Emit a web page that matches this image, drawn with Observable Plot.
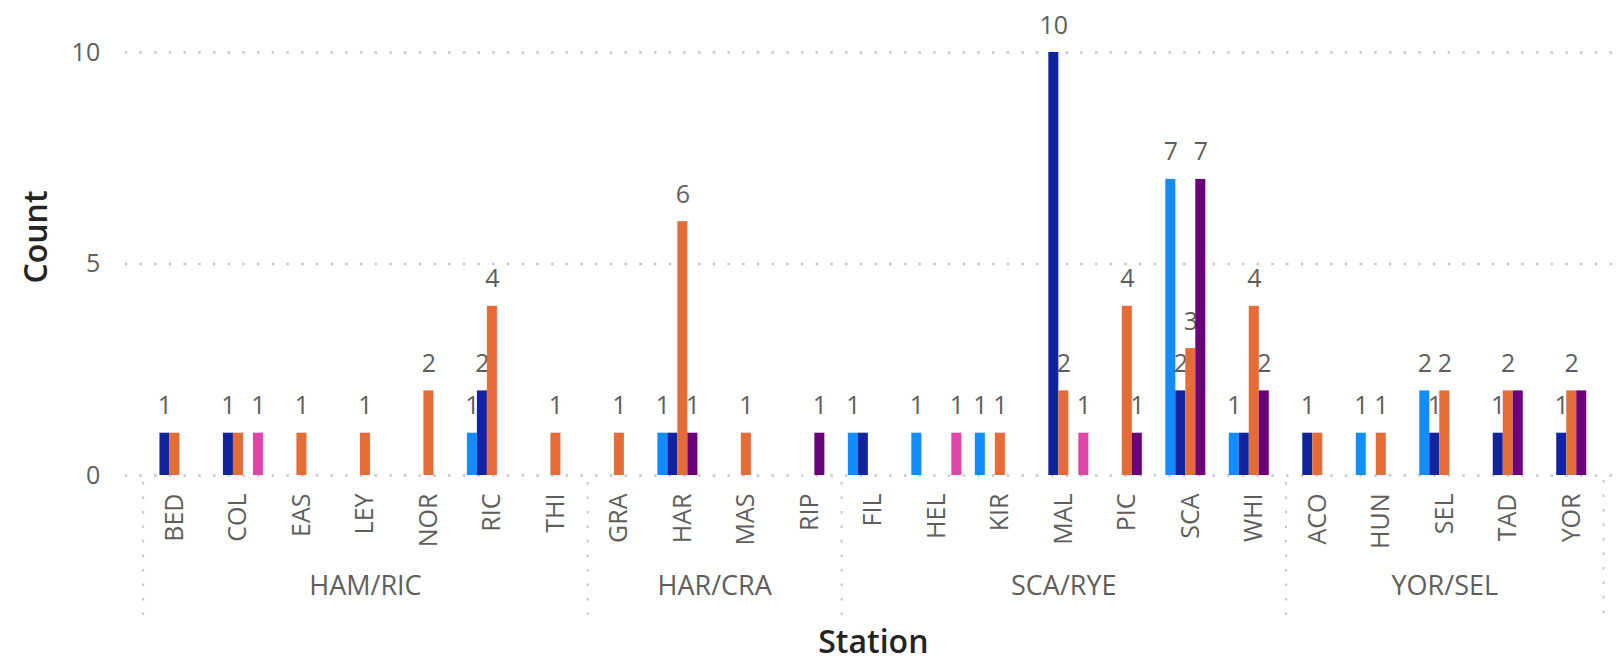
<!DOCTYPE html>
<html>
<head>
<meta charset="utf-8">
<script src="https://cdn.jsdelivr.net/npm/d3@7"></script>
<script src="https://cdn.jsdelivr.net/npm/@observablehq/plot@0.6"></script>
<style>
  html, body { margin: 0; padding: 0; background: #ffffff; }
  #chart svg { display: block; }
</style>
</head>
<body>
<div id="chart"></div>
<script>
// ---- Data ----
const groups = ["HAM/RIC", "HAR/CRA", "SCA/RYE", "YOR/SEL"];
const groupSizes = [7, 4, 7, 5];
const stations = ["BED","COL","EAS","LEY","NOR","RIC","THI",
                  "GRA","HAR","MAS","RIP",
                  "FIL","HEL","KIR","MAL","PIC","SCA","WHI",
                  "ACO","HUN","SEL","TAD","YOR"];
const seriesNames = ["Series 1", "Series 2", "Series 3", "Series 4", "Series 5"];
const seriesColors = ["#118DFF", "#12239E", "#E66C37", "#6B007B", "#E044A7"];
const series1 = [null,null,null,null,null,1,null, null,1,null,null, 1,1,1,null,null,7,1, null,1,2,null,null];
const series2 = [1,1,null,null,null,2,null, null,1,null,null, 1,null,null,10,null,2,1, 1,null,1,1,1];
const series3 = [1,1,1,1,2,4,1, 1,6,1,null, null,null,1,2,4,3,4, 1,1,2,2,2];
const series4 = [null,null,null,null,null,null,null, null,1,null,1, null,null,null,null,1,7,2, null,null,null,2,2];
const series5 = [null,1,null,null,null,null,null, null,null,null,null, null,1,null,1,null,null,null, null,null,null,null,null];
const yTicks = [0, 5, 10];

// ---- Layout ----
const W = 1624, H = 659;
const mL = 142.7, mR = 21, mT = 52, mB = 184;
const bw = (W - mL - mR) / stations.length;
const barW = 10;
const nS = seriesNames.length;
const font = "'Segoe UI', 'Open Sans', sans-serif";
const gray = "#605E5C";

const seriesValues = [series1, series2, series3, series4, series5];
const rows = [];
seriesValues.forEach((vals, k) => vals.forEach((v, i) => {
  if (v != null) rows.push({station: stations[i], series: seriesNames[k], k, i, value: v});
}));

// data label visibility (avoid overlapping labels, like the original)
const labelRows = [];
stations.forEach((s, i) => {
  const placed = [];
  rows.filter(r => r.i === i).sort((a, b) => a.k - b.k).forEach(r => {
    const off = (r.k - (nS - 1) / 2) * barW;
    const clash = placed.some(p => Math.abs(p.off - off) < 15 && Math.abs(p.value - r.value) < 0.5);
    if (!clash) { placed.push({off, value: r.value}); labelRows.push(r); }
  });
});

// groups → first/last station
let acc = 0;
const groupInfo = groups.map((g, gi) => {
  const first = acc, last = acc + groupSizes[gi] - 1;
  acc += groupSizes[gi];
  const midF = (first + last) / 2;
  const mid = Math.floor(midF);
  return {name: g, first: stations[first], last: stations[last], mid: stations[mid], dx: (midF - mid) * bw};
});

const marks = [];
// gridlines
marks.push(Plot.ruleY(yTicks, {y: d => d, stroke: "#C8C6C4", strokeWidth: 2.5, strokeDasharray: "2.5 12.2", insetLeft: -18, insetRight: -17}));
// bars
seriesNames.forEach((name, k) => {
  const inL = bw / 2 - (nS * barW) / 2 + k * barW;
  marks.push(Plot.barY(rows.filter(r => r.k === k), {
    x: "station", y: "value", fill: seriesColors[k],
    insetLeft: inL, insetRight: bw - inL - barW
  }));
  marks.push(Plot.text(labelRows.filter(r => r.k === k), {
    x: "station", y: "value", text: d => String(d.value),
    dx: (k - (nS - 1) / 2) * barW, dy: -19, lineAnchor: "bottom",
    fill: gray, fontSize: 25, fontFamily: font
  }));
});
// y axis tick labels
marks.push(Plot.axisY(yTicks, {tickSize: 0, tickPadding: 43, label: null, fontSize: 25, fill: gray, fontFamily: font}));
// station labels
marks.push(Plot.text(stations, {x: d => d, frameAnchor: "bottom", rotate: -90, textAnchor: "end", lineAnchor: "middle", dy: 18, fontSize: 25, fill: gray, fontFamily: font}));
// group separators
const seps = groupInfo.map(g => g.first);
marks.push(Plot.ruleX(seps, {x: d => d, dx: -bw / 2, stroke: "#C8C6C4", strokeWidth: 2, strokeDasharray: "2.5 12", dy: 430, insetBottom: 283}));
marks.push(Plot.ruleX([stations[stations.length - 1]], {x: d => d, dx: bw / 2, stroke: "#C8C6C4", strokeWidth: 2, strokeDasharray: "2.5 12", dy: 428, insetBottom: 281}));
// group labels
groupInfo.forEach(g => {
  marks.push(Plot.text([g], {x: "mid", text: "name", dx: g.dx, frameAnchor: "bottom", dy: 111, lineAnchor: "middle", fontSize: 27, fill: gray, fontFamily: font}));
});
// axis titles
marks.push(Plot.text(["Count"], {frameAnchor: "left", rotate: -90, textAnchor: "middle", lineAnchor: "middle", dx: -106, dy: -27, fontSize: 32, fontWeight: 600, fill: "#252423", fontFamily: font}));
marks.push(Plot.text(["Station"], {frameAnchor: "bottom", textAnchor: "middle", lineAnchor: "middle", dy: 167, fontSize: 32, fontWeight: 600, fill: "#252423", fontFamily: font}));

const chart = Plot.plot({
  width: W, height: H,
  marginLeft: mL, marginRight: mR, marginTop: mT, marginBottom: mB,
  x: {type: "band", domain: stations, padding: 0, round: false, axis: null},
  y: {domain: [0, 10], axis: null},
  style: {fontFamily: font, background: "#ffffff", overflow: "visible"},
  marks
});
document.getElementById("chart").appendChild(chart);
</script>
</body>
</html>
